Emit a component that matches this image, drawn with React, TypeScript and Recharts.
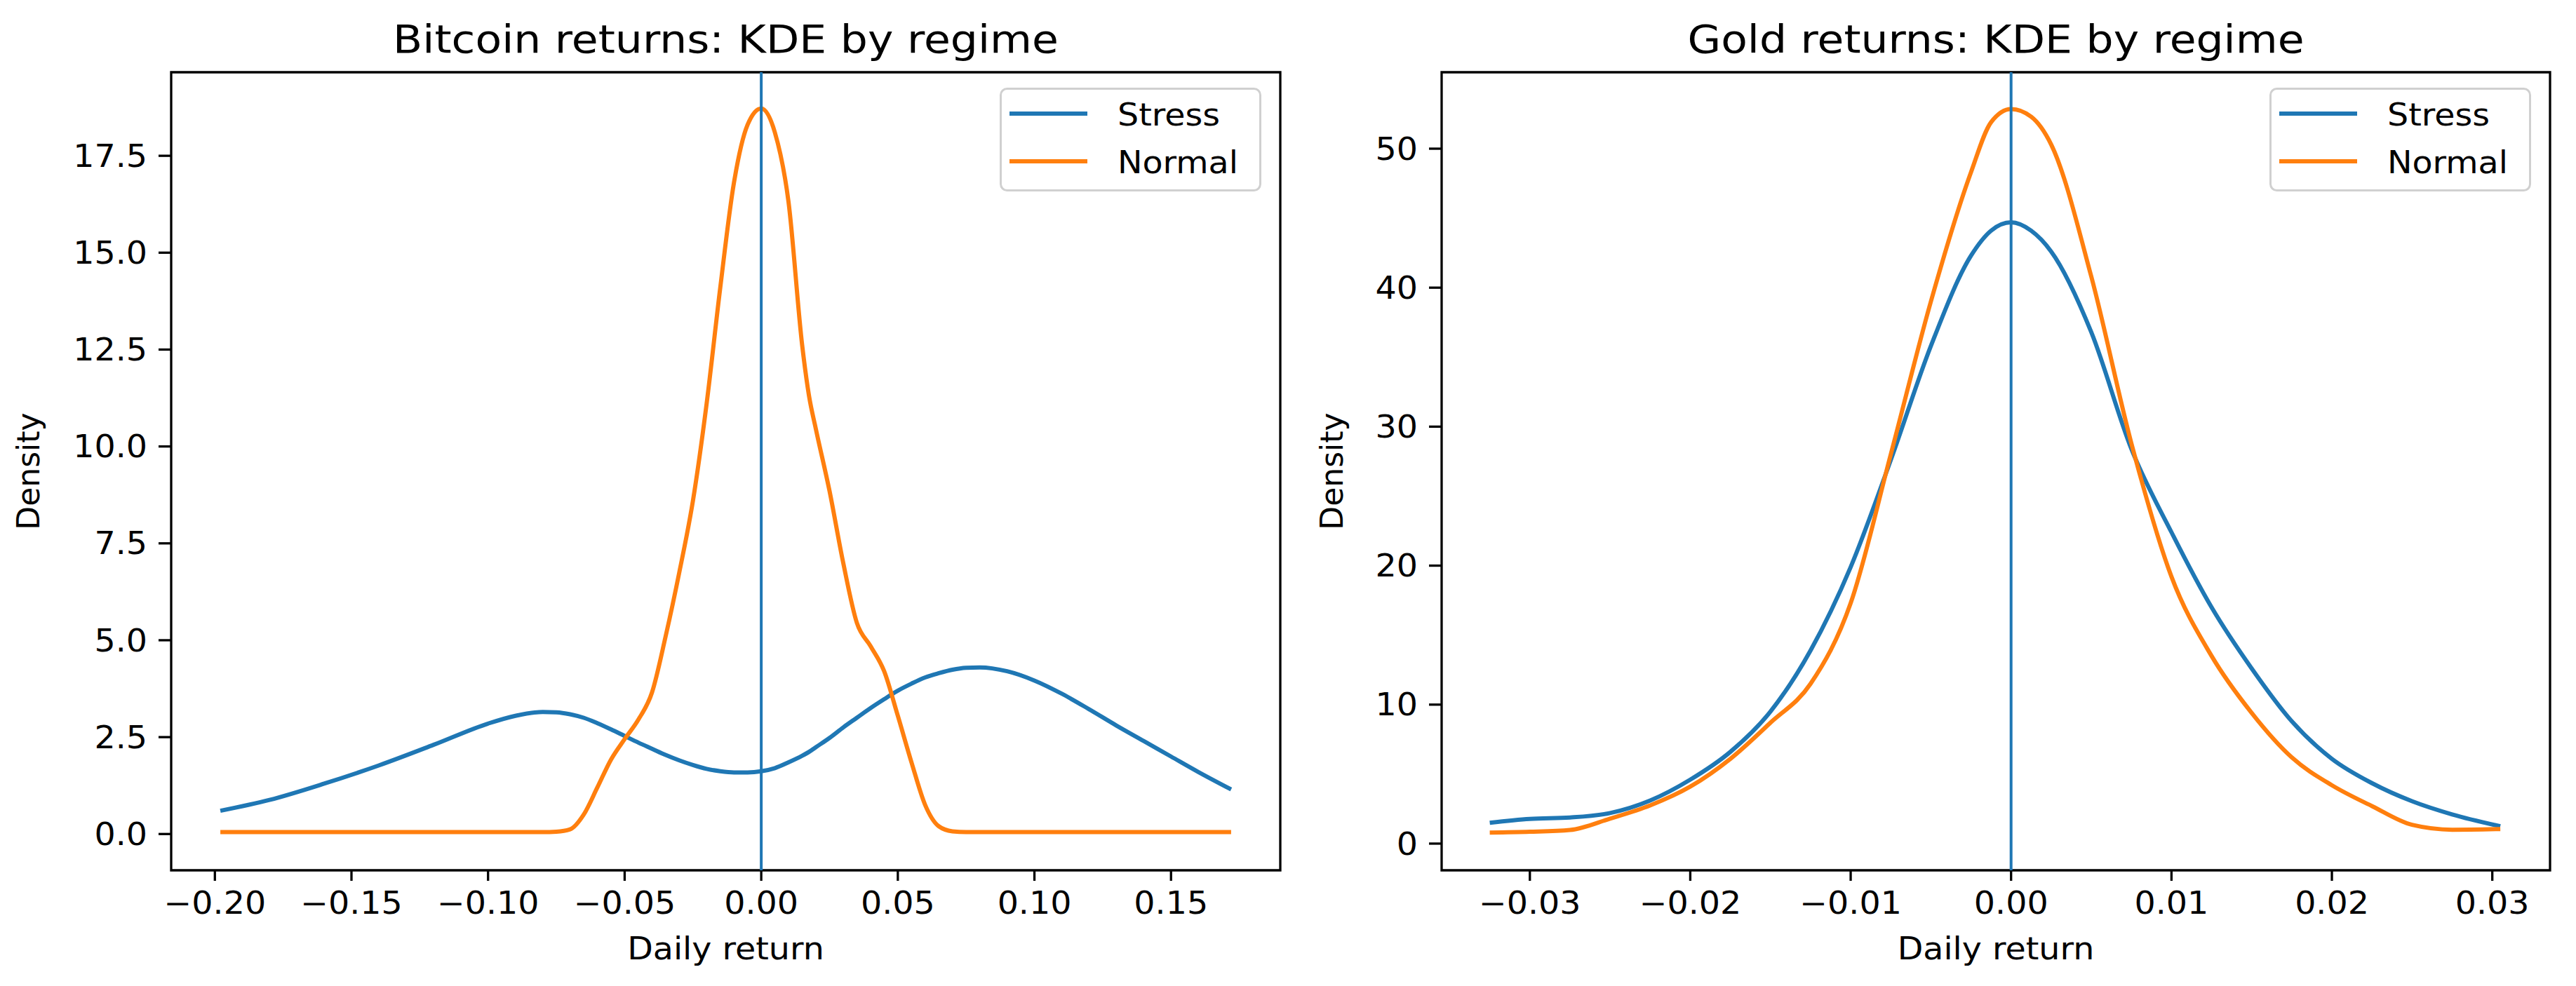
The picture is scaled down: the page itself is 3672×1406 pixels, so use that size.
import React from 'react';
import { LineChart, Line, XAxis, YAxis, ReferenceLine, ReferenceArea, Legend } from 'recharts';

// Bitcoin daily return grid and KDE densities
const btcReturn = [
  -0.198, -0.18, -0.16, -0.14, -0.12, -0.1, -0.09, -0.08, -0.075, -0.07, -0.065, -0.06, -0.055,
  -0.05, -0.045, -0.04, -0.035, -0.03, -0.025, -0.02, -0.015, -0.01, -0.005, 0, 0.005, 0.01,
  0.015, 0.0175, 0.02, 0.025, 0.03, 0.035, 0.04, 0.045, 0.05, 0.055, 0.06, 0.065, 0.07, 0.075,
  0.08, 0.09, 0.1, 0.11, 0.12, 0.13, 0.14, 0.15, 0.16, 0.172,
];
const btcStress = [
  0.6, 0.88, 1.3, 1.77, 2.3, 2.85, 3.05, 3.15, 3.14, 3.09, 3.0, 2.86, 2.7,
  2.53, 2.36, 2.2, 2.04, 1.9, 1.78, 1.68, 1.62, 1.59, 1.59, 1.62, 1.7, 1.85,
  2.02, 2.12, 2.24, 2.48, 2.75, 3.0, 3.25, 3.48, 3.7, 3.88, 4.04, 4.15, 4.24, 4.29,
  4.3, 4.2, 3.96, 3.62, 3.22, 2.8, 2.4, 2.0, 1.6, 1.15,
];
const btcNormal = [
  0.05, 0.05, 0.05, 0.05, 0.05, 0.05, 0.05, 0.05, 0.06, 0.12, 0.5, 1.2, 1.92,
  2.45, 2.95, 3.65, 5.1, 6.75, 8.6, 11.1, 14.1, 16.8, 18.3, 18.72, 18.1, 16.3,
  12.6, 11.3, 10.45, 8.85, 7.0, 5.45, 4.85, 4.2, 3.05, 1.85, 0.75, 0.2, 0.07, 0.05,
  0.05, 0.05, 0.05, 0.05, 0.05, 0.05, 0.05, 0.05, 0.05, 0.05,
];
const btcXTicks = [-0.2, -0.15, -0.1, -0.05, 0, 0.05, 0.1, 0.15];
const btcYTicks = [0, 2.5, 5, 7.5, 10, 12.5, 15, 17.5];

// Gold daily return grid and KDE densities
const goldReturn = [
  -0.0325, -0.03, -0.0275, -0.025, -0.0225, -0.02, -0.0175, -0.015, -0.0125, -0.01, -0.0075,
  -0.005, -0.0025, -0.00125, 0, 0.00125, 0.0025, 0.005, 0.0075, 0.01, 0.0125, 0.015, 0.0175,
  0.02, 0.0225, 0.025, 0.0275, 0.0305,
];
const goldStress = [
  1.5, 1.78, 1.88, 2.2, 3.1, 4.6, 6.6, 9.5, 13.9, 19.9, 27.6,
  35.8, 42.3, 44.1, 44.7, 44.1, 42.6, 36.8, 28.4, 22.4, 17.0, 12.6, 8.8,
  6.1, 4.35, 3.05, 2.1, 1.25,
];
const goldNormal = [
  0.79, 0.85, 0.98, 1.8, 2.75, 4.1, 6.1, 8.7, 11.5, 17.3, 28.0,
  39.0, 48.3, 51.9, 52.85, 52.3, 50.3, 40.8, 28.8, 19.2, 13.5, 9.4, 6.2,
  4.2, 2.7, 1.35, 1.0, 1.05,
];
const goldXTicks = [-0.03, -0.02, -0.01, 0, 0.01, 0.02, 0.03];
const goldYTicks = [0, 10, 20, 30, 40, 50];

const seriesOrder = ['Stress', 'Normal'];

const btcRows = btcReturn.map((x, i) => ({ x, stress: btcStress[i], normal: btcNormal[i] }));
const goldRows = goldReturn.map((x, i) => ({ x, stress: goldStress[i], normal: goldNormal[i] }));

const BLUE = '#1f77b4';
const ORANGE = '#ff7f0e';
const FONT = 'DejaVu Sans';
const FS = 44;
const SX = 1.08; // the reference glyphs are a little wider than tall

const minus = (s: string) => s.replace('-', '\u2212');
const fmt2 = (v: number) => minus(v.toFixed(2));
const fmt1 = (v: number) => minus(v.toFixed(1));
const fmt0 = (v: number) => minus(v.toFixed(0));

const tickLineStyle = { stroke: '#000', strokeWidth: 3.3 };

// text drawn at (x, y) and stretched horizontally
function WideText({ x, y, anchor, size, dy, sx = SX, children }: any) {
  return (
    <g transform={`translate(${x},${y})`}>
      <text transform={`scale(${sx},1)`} textAnchor={anchor} dy={dy} fontSize={size} fontFamily={FONT} fill="#000">
        {children}
      </text>
    </g>
  );
}

const makeXTick = (fmt: (v: number) => string) => (props: any) => (
  <WideText x={props.x} y={props.y} anchor="middle" size={FS} dy="0.71em">
    {fmt(props.payload.value)}
  </WideText>
);

const makeYTick = (fmt: (v: number) => string) => (props: any) => (
  <WideText x={props.x} y={props.y} anchor="end" size={FS} dy="0.355em">
    {fmt(props.payload.value)}
  </WideText>
);

function LegendBox({ payload }: any) {
  const items = [...(payload || [])].sort(
    (a: any, b: any) => seriesOrder.indexOf(a.value) - seriesOrder.indexOf(b.value),
  );
  return (
    <svg width={373} height={148} style={{ display: 'block' }}>
      <rect x={1.5} y={1.5} width={370} height={145} rx={9} fill="#fff" fillOpacity={0.8} stroke="#d0d0d0" strokeWidth={3} />
      {items.map((entry: any, i: number) => (
        <g key={entry.value}>
          <line x1={14} x2={125} y1={37 + i * 68} y2={37 + i * 68} stroke={entry.color} strokeWidth={6} />
          <WideText x={168} y={54 + i * 68} anchor="start" size={FS}>
            {entry.value}
          </WideText>
        </g>
      ))}
    </svg>
  );
}

interface PanelProps {
  rows: { x: number; stress: number; normal: number }[];
  xDomain: [number, number];
  yDomain: [number, number];
  xTicks: number[];
  yTicks: number[];
  yFmt: (v: number) => string;
  yAxisWidth: number;
  rightMargin: number;
  labelGap: number;
  legendLeft: number;
}

function Panel(p: PanelProps) {
  return (
    <LineChart
      width={1836}
      height={1406}
      data={p.rows}
      margin={{ top: 103, right: p.rightMargin, left: 0, bottom: 0 }}
    >
      <XAxis
        dataKey="x"
        type="number"
        domain={p.xDomain}
        allowDataOverflow
        ticks={p.xTicks}
        height={165}
        axisLine={false}
        tickLine={tickLineStyle}
        tickSize={15}
        tickMargin={16}
        tick={makeXTick(fmt2)}
        interval={0}
        label={(lp: any) => {
          const vb = lp.viewBox;
          return (
            <WideText x={vb.x + vb.width / 2} y={vb.y + vb.height - 38} anchor="middle" size={FS}>
              Daily return
            </WideText>
          );
        }}
      />
      <YAxis
        type="number"
        domain={p.yDomain}
        allowDataOverflow
        ticks={p.yTicks}
        width={p.yAxisWidth}
        axisLine={false}
        tickLine={tickLineStyle}
        tickSize={18}
        tickMargin={16}
        tick={makeYTick(p.yFmt)}
        interval={0}
        label={(lp: any) => {
          const vb = lp.viewBox;
          const x = vb.x + vb.width - p.labelGap;
          const y = vb.y + vb.height / 2;
          return (
            <g transform={`translate(${x},${y}) rotate(-90)`}>
              <text textAnchor="middle" fontSize={FS} fontFamily={FONT} fill="#000">
                Density
              </text>
            </g>
          );
        }}
      />
      <ReferenceArea
        x1={p.xDomain[0]}
        x2={p.xDomain[1]}
        y1={p.yDomain[0]}
        y2={p.yDomain[1]}
        fill="none"
        stroke="#000"
        strokeWidth={3.3}
        ifOverflow="visible"
      />
      <Line type="monotone" dataKey="stress" name="Stress" stroke={BLUE} strokeWidth={6} dot={false} isAnimationActive={false} />
      <Line type="monotone" dataKey="normal" name="Normal" stroke={ORANGE} strokeWidth={6} dot={false} isAnimationActive={false} />
      <ReferenceLine x={0} stroke={BLUE} strokeWidth={4} />
      <Legend
        layout="horizontal"
        verticalAlign="middle"
        align="center"
        content={<LegendBox />}
        wrapperStyle={{ left: p.legendLeft, top: 125, width: 373, height: 148 }}
      />
    </LineChart>
  );
}

export default function App() {
  return (
    <div style={{ position: 'absolute', left: 0, top: 0, width: 3672, height: 1406, background: '#fff', fontFamily: FONT }}>
      <div style={{ position: 'absolute', left: 0, top: 0 }}>
        <Panel
          rows={btcRows}
          xDomain={[-0.216, 0.19]}
          yDomain={[-0.936, 19.656]}
          xTicks={btcXTicks}
          yTicks={btcYTicks}
          yFmt={fmt1}
          yAxisWidth={244}
          rightMargin={11}
          labelGap={188}
          legendLeft={1425}
        />
      </div>
      <div style={{ position: 'absolute', left: 1836, top: 0 }}>
        <Panel
          rows={goldRows}
          xDomain={[-0.0355, 0.0336]}
          yDomain={[-1.92, 55.5]}
          xTicks={goldXTicks}
          yTicks={goldYTicks}
          yFmt={fmt0}
          yAxisWidth={219}
          rightMargin={37}
          labelGap={141}
          legendLeft={1399}
        />
      </div>
      <svg width={3672} height={1406} style={{ position: 'absolute', left: 0, top: 0, pointerEvents: 'none' }}>
        <WideText x={1034.5} y={75} anchor="middle" size={55} sx={1.12}>
          Bitcoin returns: KDE by regime
        </WideText>
        <WideText x={2845} y={75} anchor="middle" size={55} sx={1.12}>
          Gold returns: KDE by regime
        </WideText>
      </svg>
    </div>
  );
}
